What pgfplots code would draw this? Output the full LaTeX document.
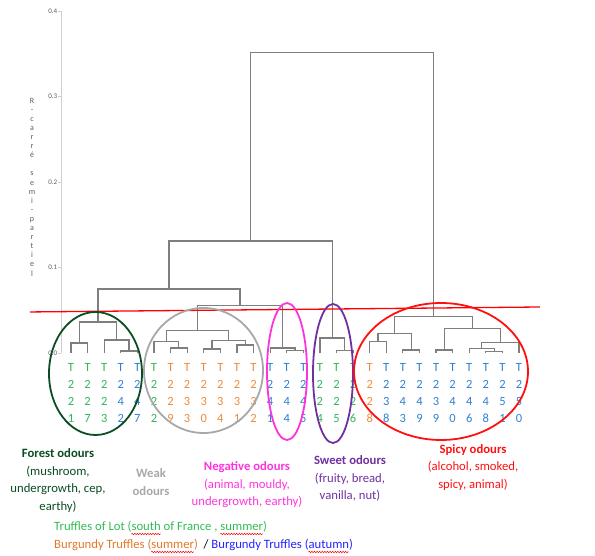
\documentclass[border=0pt]{standalone}
\usepackage{fontspec}
\setmainfont{Carlito}
\usepackage{pgfplots}
\pgfplotsset{compat=1.18}
\usetikzlibrary{decorations.pathmorphing}
\definecolor{dendc}{HTML}{7E7E7E}
\definecolor{axgrey}{HTML}{CFCFCF}
\definecolor{labgrey}{HTML}{5A5A5A}
\definecolor{forestc}{HTML}{0B4D22}
\definecolor{weakc}{HTML}{A8A8A8}
\definecolor{negc}{HTML}{FF33DD}
\definecolor{sweetc}{HTML}{7030A0}
\definecolor{spicyc}{HTML}{FF1010}
\definecolor{lg}{HTML}{33B55A}
\definecolor{lo}{HTML}{EE8A3A}
\definecolor{lb}{HTML}{2F80D0}
\definecolor{lotg}{HTML}{33BB55}
\definecolor{burgo}{HTML}{E07A28}
\definecolor{autb}{HTML}{2323FF}
\newcommand{\lf}[4]{\textcolor{#1}{\begin{tabular}{@{}c@{}}T\\#2\\#3\\#4\end{tabular}}}
\newcommand{\annfont}{\fontsize{12.7}{17.6}\selectfont}
\pgfplotsset{dg/.style={draw=dendc, line width=1.2pt, no markers, line join=miter}}
\newlength{\lenA}\newlength{\lenB}\newlength{\lenC}\newlength{\lenD}
\newlength{\lenE}\newlength{\lenF}\newlength{\lenG}
\tikzset{wavy/.style={draw=red, line width=0.5pt, decorate, decoration={snake, amplitude=0.7pt, segment length=2.6pt}}}
\begin{document}
\settowidth{\lenA}{\annfont Truffles of Lot (}%
\settowidth{\lenB}{\annfont south}%
\settowidth{\lenC}{\annfont Truffles of Lot (south of France , }%
\settowidth{\lenD}{\annfont summer}%
\settowidth{\lenE}{\annfont Burgundy Truffles (}%
\settowidth{\lenF}{\annfont Burgundy Truffles (summer)\ \ /\ Burgundy Truffles (}%
\settowidth{\lenG}{\annfont autumn}%
\begin{tikzpicture}[x=1pt,y=1pt]
\useasboundingbox (-61,-203) rectangle (534,353);
\begin{axis}[
  at={(0,0)}, anchor=south west,
  scale only axis, width=482.9pt, height=342pt,
  xmin=-0.603, xmax=28.5, ymin=0, ymax=0.4,
  clip=false,
  axis y line=left, axis x line=bottom,
  axis line style={-},
  x axis line style={draw=none},
  y axis line style={draw=axgrey, line width=0.9pt},
  xtick={0,...,27},
  xticklabels={\lf{lg}{2}{2}{1},\lf{lg}{2}{2}{7},\lf{lg}{2}{2}{3},\lf{lb}{2}{4}{2},\lf{lb}{2}{4}{7},
    \lf{lg}{2}{2}{2},\lf{lo}{2}{2}{9},\lf{lo}{2}{3}{3},\lf{lo}{2}{3}{0},\lf{lo}{2}{3}{4},\lf{lo}{2}{3}{1},\lf{lo}{2}{3}{2},
    \lf{lb}{2}{4}{1},\lf{lb}{2}{4}{4},\lf{lb}{2}{4}{5},
    \lf{lg}{2}{2}{4},\lf{lg}{2}{2}{5},\lf{lg}{2}{2}{6},
    \lf{lo}{2}{2}{8},\lf{lb}{2}{3}{8},\lf{lb}{2}{4}{3},\lf{lb}{2}{4}{9},\lf{lb}{2}{3}{9},\lf{lb}{2}{4}{0},\lf{lb}{2}{4}{6},\lf{lb}{2}{4}{8},\lf{lb}{2}{5}{1},\lf{lb}{2}{5}{0}},
  major x tick style={draw=none},
  xticklabel style={anchor=north, inner sep=0pt, yshift=-4pt, font=\fontsize{12.5}{17}\selectfont},
  ytick={0,0.1,0.2,0.3,0.4},
  major y tick style={draw=axgrey, line width=0.6pt},
  major tick length=2.5pt, tick align=outside,
  yticklabel style={font=\fontsize{7}{8}\selectfont, text=labgrey, inner sep=1pt,
    /pgf/number format/fixed, /pgf/number format/fixed zerofill, /pgf/number format/precision=1,
    /pgf/number format/assume math mode=true},
  every axis y label/.style={at={(axis description cs:-0.06,0.483)}, anchor=center},
  ylabel={\fontsize{8}{9.1}\selectfont\color{labgrey}\begin{tabular}{@{}c@{}}R\\-\\c\\a\\r\\r\\é\\ \\s\\e\\m\\i\\-\\p\\a\\r\\t\\i\\e\\l\end{tabular}},
]
% dendrogram merges (leaf index, semi-partial R-squared)
\addplot[dg] coordinates {(0,0)(0,0.0117)(1,0.0117)(1,0)};
\addplot[dg] coordinates {(3,0)(3,0.0023)(4,0.0023)(4,0)};
\addplot[dg] coordinates {(2,0)(2,0.0152)(3.5,0.0152)(3.5,0.0023)};
\addplot[dg] coordinates {(0.5,0.0117)(0.5,0.0363)(2.75,0.0363)(2.75,0.0152)};
\addplot[dg] coordinates {(6,0)(6,0.0058)(7,0.0058)(7,0)};
\addplot[dg] coordinates {(5,0)(5,0.0137)(6.5,0.0137)(6.5,0.0058)};
\addplot[dg] coordinates {(8,0)(8,0.0047)(9,0.0047)(9,0)};
\addplot[dg] coordinates {(10,0)(10,0.0094)(11,0.0094)(11,0)};
\addplot[dg] coordinates {(8.5,0.0047)(8.5,0.0142)(10.5,0.0142)(10.5,0.0094)};
\addplot[dg] coordinates {(5.75,0.0137)(5.75,0.0263)(9.5,0.0263)(9.5,0.0142)};
\addplot[dg] coordinates {(13,0)(13,0.0027)(14,0.0027)(14,0)};
\addplot[dg] coordinates {(12,0)(12,0.0058)(13.5,0.0058)(13.5,0.0027)};
\addplot[dg] coordinates {(7.625,0.0263)(7.625,0.0553)(12.75,0.0553)(12.75,0.0058)};
\addplot[dg] coordinates {(1.625,0.0363)(1.625,0.0749)(10.1875,0.0749)(10.1875,0.0553)};
\addplot[dg] coordinates {(16,0)(16,0.0027)(17,0.0027)(17,0)};
\addplot[dg] coordinates {(15,0)(15,0.0175)(16.5,0.0175)(16.5,0.0027)};
\addplot[dg] coordinates {(5.90625,0.0749)(5.90625,0.131)(15.75,0.131)(15.75,0.0175)};
\addplot[dg] coordinates {(18,0)(18,0.0132)(19,0.0132)(19,0)};
\addplot[dg] coordinates {(20,0)(20,0.0035)(21,0.0035)(21,0)};
\addplot[dg] coordinates {(18.5,0.0132)(18.5,0.023)(20.5,0.023)(20.5,0.0035)};
\addplot[dg] coordinates {(22,0)(22,0.0035)(23,0.0035)(23,0)};
\addplot[dg] coordinates {(25,0)(25,0.0018)(26,0.0018)(26,0)};
\addplot[dg] coordinates {(24,0)(24,0.0055)(25.5,0.0055)(25.5,0.0018)};
\addplot[dg] coordinates {(24.75,0.0055)(24.75,0.012)(27,0.012)(27,0)};
\addplot[dg] coordinates {(22.5,0.0035)(22.5,0.0289)(25.875,0.0289)(25.875,0.012)};
\addplot[dg] coordinates {(19.5,0.023)(19.5,0.0425)(24.1875,0.0425)(24.1875,0.0289)};
\addplot[dg] coordinates {(10.828,0.131)(10.828,0.351)(21.84375,0.351)(21.84375,0.0425)};
% cut line
\addplot[draw=red, line width=1.3pt, no markers] coordinates {(-2.471,0.048)(28.26,0.0538)};
\end{axis}
% group ellipses
\draw[forestc, line width=1.8pt] (34.5,-20.5) ellipse [x radius=46.5, y radius=61.5];
\draw[weakc, line width=1.8pt] (142.5,-17.5) ellipse [x radius=59.5, y radius=62.5];
\draw[negc, line width=1.8pt] (226,-18.5) ellipse [x radius=20, y radius=68.5];
\draw[sweetc, line width=1.8pt] (272,-20.5) ellipse [x radius=20, y radius=69.5];
\draw[spicyc, line width=1.8pt] (380,-18.5) ellipse [x radius=87, y radius=68.5];
% group texts
\begin{scope}[every node/.style={inner sep=0pt, font=\annfont}]
\node[align=center, text=forestc] at (-3,-127.5) {\textbf{Forest odours}\\(mushroom,\\undergrowth, cep,\\earthy)};
\node[align=center, text=weakc] at (90,-129) {\textbf{Weak}\\\textbf{odours}};
\node[align=center, text=negc] at (186,-132) {\textbf{Negative odours}\\(animal, mouldy,\\undergrowth, earthy)};
\node[align=center, text=sweetc] at (289,-125.5) {\textbf{Sweet odours}\\(fruity, bread,\\vanilla, nut)};
\node[align=center, text=spicyc] at (412,-114.5) {\textbf{Spicy odours}\\(alcohol, smoked,\\spicy, animal)};
\node[anchor=base west, text=lotg] at (-7,-178) {Truffles of Lot (south of France , summer)};
\node[anchor=base west] at (-7,-196) {\textcolor{burgo}{Burgundy Truffles (summer)}\ \ /\ \textcolor{autb}{Burgundy Truffles (autumn)}};
\end{scope}
% spell-check wavy underlines
\draw[wavy] ([xshift=\lenA]-7,-181) -- ++(\lenB,0);
\draw[wavy] ([xshift=\lenC]-7,-181) -- ++(\lenD,0);
\draw[wavy] ([xshift=\lenE]-7,-199) -- ++(\lenD,0);
\draw[wavy] ([xshift=\lenF]-7,-199) -- ++(\lenG,0);
\end{tikzpicture}
\end{document}
